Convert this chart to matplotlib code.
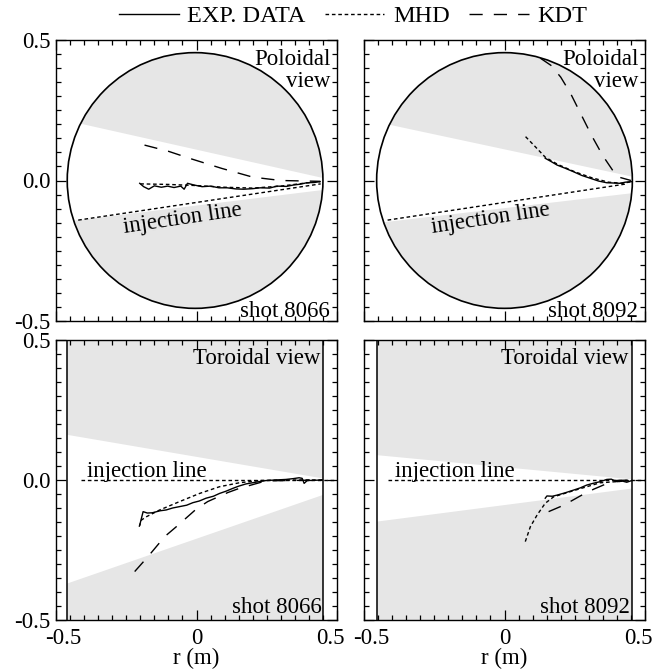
import numpy as np
import matplotlib
matplotlib.use("Agg")
import matplotlib.pyplot as plt
from matplotlib.patches import Ellipse, Polygon
from matplotlib.lines import Line2D
from matplotlib.ticker import MultipleLocator
import matplotlib.transforms as mtransforms

plt.rcParams['font.family'] = ['Liberation Serif', 'DejaVu Serif']
FS = 16.5

# ---------------- data ----------------
wall_radius = 0.455
wall_center = {"8066": -0.005, "8092": 0.0}

# poloidal view: boundaries of the viewing fan (two points each)
pol_upper = {"8066": ([-0.394, 0.454], [0.198, 0.008]),
             "8092": ([-0.389, 0.453], [0.194, 0.014])}
pol_lower = {"8066": ([-0.421, 0.448], [-0.141, -0.034]),
             "8092": ([-0.416, 0.447], [-0.147, -0.046])}
pol_inj = {"8066": ([-0.421, 0.442], [-0.141, -0.012]),
           "8092": ([-0.416, 0.435], [-0.141, -0.012])}

# toroidal view: fan boundaries
tor_upper = {"8066": ([-0.458, 0.448], [0.161, 0.006]),
             "8092": ([-0.457, 0.457], [0.089, 0.002])}
tor_lower = {"8066": ([-0.458, 0.448], [-0.369, -0.054]),
             "8092": ([-0.457, 0.457], [-0.149, -0.030])}
tor_inj_x = {"8066": [-0.41, 0.5], "8092": [-0.416, 0.5]}

# ---- shot 8066, poloidal ----
p8066_exp_x = [-0.202, -0.188, -0.17, -0.15, -0.125, -0.103, -0.08, -0.056, -0.044, -0.032,
               -0.009, 0.02, 0.05, 0.08, 0.109, 0.14, 0.168, 0.2, 0.227, 0.26, 0.286, 0.32,
               0.345, 0.37, 0.392, 0.42, 0.44]
p8066_exp_y = [-0.010, -0.022, -0.031, -0.019, -0.024, -0.020, -0.025, -0.020, -0.031, -0.010,
               -0.016, -0.022, -0.020, -0.026, -0.026, -0.030, -0.031, -0.029, -0.026, -0.027,
               -0.020, -0.021, -0.016, -0.013, -0.008, -0.007, -0.004]
p8066_mhd_x = [-0.2, -0.1, 0.0, 0.1, 0.2, 0.3, 0.38, 0.44]
p8066_mhd_y = [-0.012, -0.014, -0.018, -0.024, -0.027, -0.020, -0.010, -0.004]
p8066_kdt_x = [-0.185, -0.1, -0.025, 0.09, 0.2, 0.3, 0.44]
p8066_kdt_y = [0.126, 0.104, 0.079, 0.043, 0.012, 0.0, -0.003]

# ---- shot 8092, poloidal ----
p8092_exp_x = [0.145, 0.165, 0.187, 0.215, 0.246, 0.275, 0.305, 0.335, 0.364, 0.39, 0.411, 0.43, 0.453]
p8092_exp_y = [0.079, 0.068, 0.055, 0.044, 0.031, 0.018, 0.008, -0.002, -0.008, -0.009, -0.010, -0.006, -0.004]
p8092_mhd_x = [0.075, 0.105, 0.145, 0.19, 0.25, 0.31, 0.37, 0.42, 0.453]
p8092_mhd_y = [0.156, 0.125, 0.083, 0.057, 0.031, 0.010, -0.006, -0.010, -0.004]
p8092_kdt_x = [0.128, 0.165, 0.2, 0.235, 0.27, 0.31, 0.35, 0.4, 0.45]
p8092_kdt_y = [0.435, 0.41, 0.368, 0.31, 0.24, 0.16, 0.088, 0.014, 0.0]

# ---- shot 8066, toroidal ----
t8066_exp_x = [-0.202, -0.19, -0.175, -0.157, -0.13, -0.108, -0.085, -0.06, -0.035, -0.013, 0.01,
               0.034, 0.06, 0.082, 0.105, 0.129, 0.15, 0.176, 0.21, 0.247, 0.28, 0.318, 0.345,
               0.365, 0.376, 0.383, 0.394, 0.42, 0.448]
t8066_exp_y = [-0.161, -0.113, -0.118, -0.117, -0.110, -0.107, -0.100, -0.095, -0.090, -0.081, -0.075,
               -0.065, -0.058, -0.048, -0.040, -0.030, -0.022, -0.014, -0.008, -0.002, 0.0, 0.002, 0.005,
               0.008, 0.006, -0.012, -0.002, -0.001, 0.0]
t8066_mhd_x = [-0.204, -0.196, -0.178, -0.131, -0.06, 0.011, 0.082, 0.152, 0.223, 0.33, 0.448]
t8066_mhd_y = [-0.167, -0.143, -0.131, -0.107, -0.077, -0.048, -0.024, -0.010, -0.002, 0.0, 0.0]
t8066_kdt_x = [-0.22, -0.173, -0.113, -0.072, -0.001, 0.04, 0.111, 0.152, 0.223, 0.247, 0.448]
t8066_kdt_y = [-0.327, -0.274, -0.202, -0.167, -0.104, -0.077, -0.045, -0.030, -0.010, -0.003, 0.0]

# ---- shot 8092, toroidal ----
t8092_exp_x = [0.145, 0.151, 0.17, 0.187, 0.215, 0.246, 0.27, 0.293, 0.315, 0.34, 0.364, 0.38, 0.4,
               0.42, 0.435, 0.453]
t8092_exp_y = [-0.065, -0.057, -0.058, -0.054, -0.046, -0.036, -0.028, -0.018, -0.012, -0.006, 0.002,
               0.003, -0.006, -0.004, -0.008, -0.002]
t8092_mhd_x = [0.074, 0.092, 0.116, 0.145, 0.175, 0.246, 0.34, 0.453]
t8092_mhd_y = [-0.220, -0.167, -0.125, -0.083, -0.060, -0.038, -0.010, -0.002]
t8092_kdt_x = [0.157, 0.199, 0.234, 0.275, 0.317, 0.352, 0.388, 0.453]
t8092_kdt_y = [-0.113, -0.095, -0.077, -0.054, -0.033, -0.018, -0.002, 0.0]

legend_labels = ["EXP. DATA", "MHD", "KDT"]
xticks = [-0.5, 0.0, 0.5]
xticklabels = ["-0.5", "0", "0.5"]
yticks = [-0.5, 0.0, 0.5]
yticklabels = ["-0.5", "0.0", "0.5"]

# ---------------- style ----------------
GRAY = '#e6e6e6'
DOT = (0, (2.6, 2.0))
DASH = (0, (9.5, 8.0))
LW = 1.0

fig = plt.figure(figsize=(6.70, 6.71), dpi=100)
W, H = 670.0, 671.0
def axrect(x0, top, w, h):
    return [x0 / W, 1 - (top + h) / H, w / W, h / H]

ax_tl = fig.add_axes(axrect(56, 40, 281, 281))
ax_tr = fig.add_axes(axrect(364, 40, 281, 281))
ax_bl = fig.add_axes(axrect(56, 340, 281, 280))
ax_br = fig.add_axes(axrect(364, 340, 281, 280))


def line_at(xs, ys, x):
    return ys[0] + (ys[1] - ys[0]) * (x - xs[0]) / (xs[1] - xs[0])


def setup(ax, left_labels, bottom_labels):
    ax.set_xlim(-0.5, 0.5)
    ax.set_ylim(-0.5, 0.5)
    ax.set_xticks(xticks)
    ax.set_yticks(yticks)
    ax.set_xticklabels(xticklabels)
    ax.set_yticklabels(yticklabels)
    ax.xaxis.set_minor_locator(MultipleLocator(0.05))
    ax.yaxis.set_minor_locator(MultipleLocator(0.05))
    ax.tick_params(which='both', direction='in', top=True, right=True,
                   labelsize=FS, width=0.9)
    ax.tick_params(which='major', length=7)
    ax.tick_params(which='minor', length=3.5)
    ax.tick_params(axis='x', pad=6)
    ax.tick_params(axis='y', pad=4)
    ax.tick_params(labelleft=left_labels, labelbottom=bottom_labels)
    for s in ax.spines.values():
        s.set_linewidth(1.0)
    if bottom_labels:
        labs = ax.get_xticklabels()
        offs = [7, 0, -7]
        for lab, o in zip(labs, offs):
            lab.set_transform(lab.get_transform() +
                              mtransforms.ScaledTranslation(o / 100.0, 0, fig.dpi_scale_trans))
        ax.set_xlabel('r (m)', fontsize=FS, labelpad=-1)


def poloidal(ax, shot, ex, ey, mx, my, kx, ky):
    c = wall_center[shot]
    disk = Ellipse((c, 0), 2 * wall_radius, 2 * wall_radius,
                   facecolor=GRAY, edgecolor='none', zorder=1)
    ax.add_patch(disk)
    ux, uy = pol_upper[shot]
    lx, ly = pol_lower[shot]
    xa, xb = -0.5, 0.5
    wedge = Polygon([(xa, line_at(ux, uy, xa)), (xb, line_at(ux, uy, xb)),
                     (xb, line_at(lx, ly, xb)), (xa, line_at(lx, ly, xa))],
                    closed=True, facecolor='white', edgecolor='none', zorder=1.2)
    ax.add_patch(wedge)
    wedge.set_clip_path(disk)
    ring = Ellipse((c, 0), 2 * wall_radius, 2 * wall_radius,
                   facecolor='none', edgecolor='black', lw=1.2, zorder=3)
    ax.add_patch(ring)
    ix, iy = pol_inj[shot]
    ax.plot(ix, iy, color='black', lw=LW, linestyle=DOT, zorder=2)
    ax.plot(kx, ky, color='black', lw=LW, linestyle=DASH, zorder=4)
    ax.plot(mx, my, color='black', lw=LW, linestyle=DOT, zorder=4)
    ax.plot(ex, ey, color='black', lw=LW, zorder=4)
    ax.text(0.978, 0.911, 'Poloidal', transform=ax.transAxes, ha='right', va='baseline',
            fontsize=FS, zorder=5)
    ax.text(0.978, 0.834, 'view', transform=ax.transAxes, ha='right', va='baseline',
            fontsize=FS, zorder=5)
    ax.text(0.975, 0.014, 'shot ' + shot, transform=ax.transAxes, ha='right', va='baseline',
            fontsize=FS, zorder=5)
    p1 = ax.transData.transform((ix[0], iy[0]))
    p2 = ax.transData.transform((ix[1], iy[1]))
    ang = np.degrees(np.arctan2(p2[1] - p1[1], p2[0] - p1[0]))
    ax.text(-0.05, -0.135, 'injection line', rotation=ang, rotation_mode='anchor',
            ha='center', va='center', fontsize=FS, zorder=5)


def toroidal(ax, shot, ex, ey, mx, my, kx, ky):
    c = wall_center[shot]
    xl, xr = c - wall_radius, c + wall_radius
    ax.axvspan(xl, xr, facecolor=GRAY, edgecolor='none', zorder=1)
    ux, uy = tor_upper[shot]
    lx, ly = tor_lower[shot]
    wedge = Polygon([(xl, line_at(ux, uy, xl)), (xr, line_at(ux, uy, xr)),
                     (xr, line_at(lx, ly, xr)), (xl, line_at(lx, ly, xl))],
                    closed=True, facecolor='white', edgecolor='none', zorder=1.2)
    ax.add_patch(wedge)
    ax.axvline(xl, color='black', lw=1.1, zorder=3)
    ax.axvline(xr, color='black', lw=1.1, zorder=3)
    ax.plot(tor_inj_x[shot], [0, 0], color='black', lw=LW, linestyle=DOT, zorder=2)
    ax.plot(kx, ky, color='black', lw=LW, linestyle=DASH, zorder=4)
    ax.plot(mx, my, color='black', lw=LW, linestyle=DOT, zorder=4)
    ax.plot(ex, ey, color='black', lw=LW, zorder=4)
    ax.text(0.44, 0.415, 'Toroidal view', ha='right', va='baseline', fontsize=FS, zorder=5)
    ax.text(0.447, -0.475, 'shot ' + shot, ha='right', va='baseline', fontsize=FS, zorder=5)
    ax.text(-0.39, 0.012, 'injection line', ha='left', va='baseline', fontsize=FS, zorder=5)


poloidal(ax_tl, "8066", p8066_exp_x, p8066_exp_y, p8066_mhd_x, p8066_mhd_y, p8066_kdt_x, p8066_kdt_y)
poloidal(ax_tr, "8092", p8092_exp_x, p8092_exp_y, p8092_mhd_x, p8092_mhd_y, p8092_kdt_x, p8092_kdt_y)
toroidal(ax_bl, "8066", t8066_exp_x, t8066_exp_y, t8066_mhd_x, t8066_mhd_y, t8066_kdt_x, t8066_kdt_y)
toroidal(ax_br, "8092", t8092_exp_x, t8092_exp_y, t8092_mhd_x, t8092_mhd_y, t8092_kdt_x, t8092_kdt_y)

setup(ax_tl, True, False)
setup(ax_tr, False, False)
setup(ax_bl, True, True)
setup(ax_br, False, True)

handles = [Line2D([], [], color='black', lw=LW),
           Line2D([], [], color='black', lw=LW, linestyle=DOT),
           Line2D([], [], color='black', lw=LW, linestyle=DASH)]
fig.legend(handles, legend_labels, loc='center', bbox_to_anchor=(0.527, 1 - 16 / H),
           ncol=3, frameon=False, fontsize=17.5, handlelength=2.45, handletextpad=0.35,
           columnspacing=0.8, borderpad=0, borderaxespad=0)

fig.savefig('out.png', dpi=100)
